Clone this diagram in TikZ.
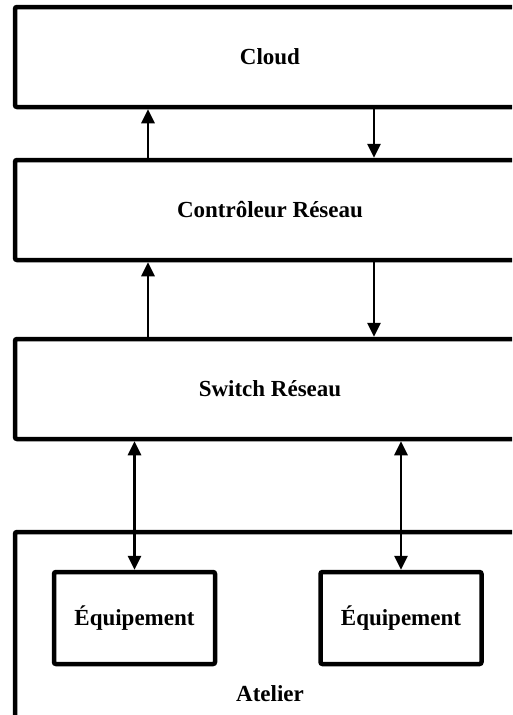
\documentclass[tikz,border=0pt]{standalone}
\usepackage{fontspec}
\setmainfont{Liberation Serif}
\usepackage{tikz}
\usetikzlibrary{arrows.meta,positioning}

\begin{document}
\begin{tikzpicture}[x=1pt,y=-1pt,
    layer/.style={
      rectangle,
      draw=black,
      line width=4.5pt,
      rounded corners=2pt,
      minimum width=510pt,
      minimum height=100pt,
      font=\fontsize{23}{27}\selectfont\bfseries
    },
    device/.style={
      rectangle,
      draw=black,
      line width=4.5pt,
      rounded corners=2pt,
      minimum width=161pt,
      minimum height=92pt,
      font=\fontsize{23}{27}\selectfont\bfseries
    },
    link/.style={
      line width=2.8pt,
      -{Triangle[length=14pt,width=13pt]}
    },
    duplex/.style={
      line width=2.8pt,
      {Triangle[length=14pt,width=13pt]}-{Triangle[length=14pt,width=13pt]}
    }
]

\useasboundingbox (0,0) rectangle (512,715);
\clip (0,0) rectangle (512,715);

\node [layer] (cloud) at (270,57) {Cloud};
\node [layer] (ctrl) at (270,210) {Contrôleur Réseau};
\node [layer] (switch) at (270,389) {Switch Réseau};
\node [layer, minimum height=220pt] (atelier) at (270,642) {};
\node [font=\fontsize{23}{27}\selectfont\bfseries] (atelierlbl) at (270,694) {Atelier};
\node [device] (equipA) at (134.5,618) {Équipement};
\node [device] (equipB) at (401,618) {Équipement};

%% Columns of the arrows
\coordinate (upx) at (148,0);
\coordinate (downx) at (374,0);

%%% Arrows
\draw [link] (ctrl.north -| upx) -- (cloud.south -| upx);
\draw [link] (cloud.south -| downx) -- (ctrl.north -| downx);
\draw [link] (switch.north -| upx) -- (ctrl.south -| upx);
\draw [link] (ctrl.south -| downx) -- (switch.north -| downx);
\draw [duplex] (switch.south -| equipA) -- (equipA.north);
\draw [duplex] (switch.south -| equipB) -- (equipB.north);

\end{tikzpicture}
\end{document}
